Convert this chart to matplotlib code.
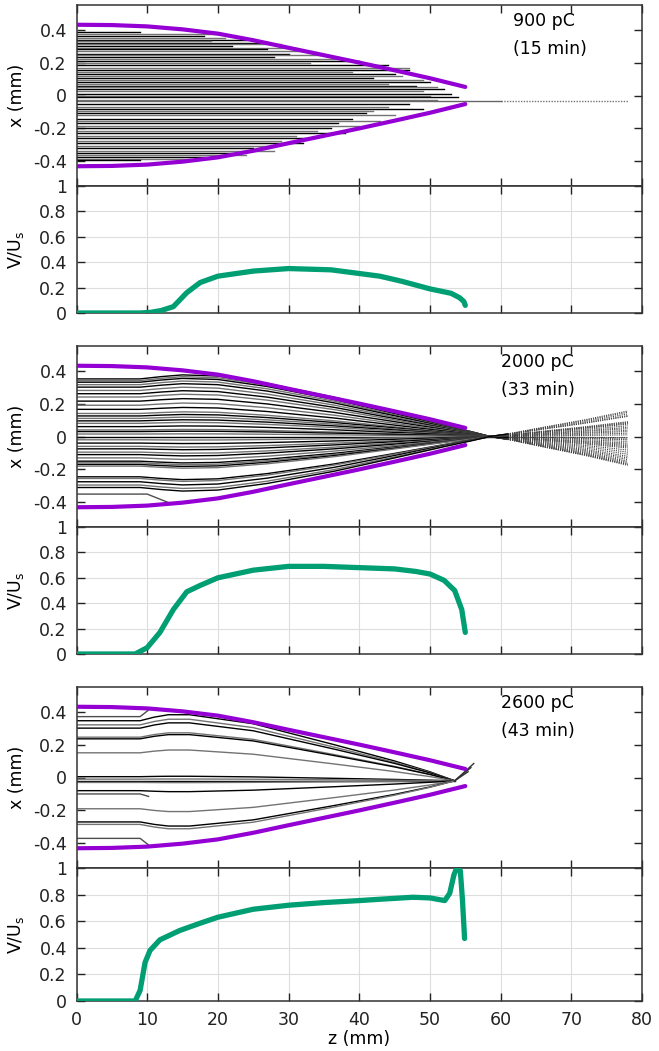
import numpy as np
import matplotlib.pyplot as plt

plt.rcParams['font.family'] = 'DejaVu Sans'
plt.rcParams['axes.unicode_minus'] = False

# beam envelope (upper edge; lower edge is the mirror)
env_z = [0, 5, 10, 15, 20, 25, 30, 35, 40, 45, 50, 55]
env_x = [0.43, 0.428, 0.42, 0.402, 0.376, 0.336, 0.29, 0.245, 0.2, 0.153, 0.105, 0.052]

# 900 pC: start position and end of each track
p1_x0 = [0.385, 0.375, 0.36, 0.35, 0.34, 0.33, 0.32, 0.31, 0.30, 0.29, 0.28, 0.27,
         0.255, 0.245, 0.235, 0.22, 0.21, 0.195, 0.185, 0.17, 0.155, 0.145, 0.13,
         0.12, 0.105, 0.095, 0.083, 0.07, 0.06, 0.05, 0.037, 0.025, 0.012, 0.0,
         -0.012, -0.025, -0.05, -0.067, -0.08, -0.095, -0.105, -0.12, -0.14, -0.155,
         -0.17, -0.185, -0.2, -0.215, -0.23, -0.245, -0.26, -0.275, -0.29, -0.305,
         -0.32, -0.335, -0.35, -0.36, -0.375, -0.385, -0.395]
p1_zend = [9, 20, 18, 21, 24, 19, 26, 29, 22, 31, 27, 33,
           30, 35, 28, 37, 40, 33, 44, 47, 47, 39, 45,
           46, 42, 49, 50, 44, 48, 51, 52, 49, 53, 50,
           54, 51, 47, 44, 49, 42, 41, 45, 39, 43,
           37, 40, 36, 34, 38, 31, 33, 29, 32, 27,
           25, 28, 22, 24, 18, 16, 9]
p1_axis_x = -0.035  # track that survives past the focus

# 2000 pC: start positions and focusing profile
p3_x0 = [0.35, 0.34, 0.33, 0.315, 0.3, 0.28, 0.26, 0.24, 0.215, 0.19, 0.165, 0.14,
         0.125, 0.11, 0.095, 0.08, 0.06, 0.04, 0.03, 0.015, 0.0, -0.02, -0.04,
         -0.06, -0.075, -0.095, -0.11, -0.13, -0.15, -0.16, -0.17, -0.18, -0.245,
         -0.255, -0.275, -0.295, -0.31]
p3_z = [0, 9, 12, 15, 20, 27, 36.5, 45, 52, 56, 58.5, 61]
p3_f = [1, 1, 1.04, 1.07, 1.05, 0.92, 0.68, 0.42, 0.2, 0.08, 0.0, -0.05]
p3_zout = [61, 66, 72, 78]
p3_fout = [-0.05, -0.18, -0.33, -0.5]
p3_lost = ([0, 10, 13.5], [-0.35, -0.35, -0.41])

# 2600 pC
p5_x0 = [0.345, 0.32, 0.30, 0.245, 0.235, 0.15, 0.005, -0.01, -0.02, -0.03,
         -0.08, -0.19, -0.27, -0.285]
p5_z = [0, 9, 11, 13, 16, 25, 36.5, 45, 50, 53.5]
p5_f = [1, 1, 1.06, 1.1, 1.1, 0.95, 0.6, 0.33, 0.15, 0.0]
p5_focus = -0.02
p5_lost_x0 = [0.37, -0.10, -0.37]
p5_lost_x1 = [0.41, -0.115, -0.41]
p5_tail_z = [56.2, 55.8, 55.4]
p5_tail_x = [0.085, 0.06, 0.035]

# V/Us curves
v1_z = [0, 5, 9, 10.5, 12, 13.7, 15.6, 17.5, 20, 25, 30, 36, 42.9, 46, 50, 53, 54.2, 54.8, 55.0]
v1 = [0, 0, 0, 0.005, 0.02, 0.05, 0.16, 0.24, 0.29, 0.33, 0.35, 0.34, 0.29, 0.25, 0.19, 0.155, 0.12, 0.09, 0.06]
v2_z = [0, 5, 8.3, 10, 11.8, 13.7, 15.6, 17.5, 20, 25, 30, 35, 40, 45, 48, 50, 52, 53.5, 54.5, 55]
v2 = [0, 0, 0, 0.05, 0.17, 0.35, 0.49, 0.54, 0.6, 0.66, 0.69, 0.69, 0.68, 0.67, 0.65, 0.63, 0.58, 0.5, 0.35, 0.17]
v3_z = [0, 5, 8.3, 9.0, 9.7, 10.4, 11.8, 14.6, 17.5, 20, 25, 30, 35, 40, 42.9, 47.6, 50,
        52.1, 52.8, 53.4, 53.8, 54.3, 54.6, 54.9]
v3 = [0, 0, 0, 0.08, 0.29, 0.38, 0.46, 0.53, 0.585, 0.63, 0.69, 0.72, 0.74, 0.755, 0.765,
      0.78, 0.775, 0.755, 0.81, 0.95, 1.0, 0.98, 0.76, 0.47]

charges = ["900 pC", "2000 pC", "2600 pC"]
times = ["(15 min)", "(33 min)", "(43 min)"]
text_z = [61.7, 60.1, 60.1]

purple = '#9400d3'
green = '#009e73'
fs = 12.5
W, H = 659, 1051
fig = plt.figure(figsize=(W / 100, H / 100), dpi=100)

left, right = 76.5, 642
x_rows = [(5, 186), (346, 527), (687, 868)]
v_rows = [(186, 313), (527, 654), (868, 1001)]


def make_ax(top, bot):
    return fig.add_axes([left / W, 1 - bot / H, (right - left) / W, (bot - top) / H])


def style(ax):
    ax.set_xlim(0, 80)
    ax.set_xticks(range(0, 81, 10))
    ax.tick_params(direction='in', top=True, right=True, length=6, width=1,
                   labelsize=fs, pad=7, colors='#222222')
    for s in ax.spines.values():
        s.set_color('#333333')
        s.set_linewidth(1.1)


x_axes = [make_ax(*r) for r in x_rows]
v_axes = [make_ax(*r) for r in v_rows]

for i, ax in enumerate(x_axes):
    style(ax)
    ax.set_ylim(-0.55, 0.55)
    ax.set_yticks([-0.4, -0.2, 0, 0.2, 0.4])
    ax.set_yticklabels(['-0.4', '-0.2', '0', '0.2', '0.4'])
    ax.tick_params(labelbottom=False)
    ax.set_ylabel('x (mm)', fontsize=fs)
    ax.yaxis.set_label_coords(-0.09, 0.5)
    ax.plot(env_z, env_x, color=purple, lw=3, solid_capstyle='round', zorder=5)
    ax.plot(env_z, -np.array(env_x), color=purple, lw=3, solid_capstyle='round', zorder=5)
    ax.text(text_z[i], 0.45, charges[i], fontsize=fs, va='center', ha='left')
    ax.text(text_z[i], 0.28, times[i], fontsize=fs, va='center', ha='left')

# 900 pC tracks
ax = x_axes[0]
for k, (x0, ze) in enumerate(zip(p1_x0, p1_zend)):
    c = 'black' if k % 2 == 0 else '0.45'
    ax.plot([0, ze], [x0, x0], color=c, lw=1.0, zorder=2)
ax.plot([0, 60], [p1_axis_x, p1_axis_x], color='0.4', lw=1.0, zorder=2)
ax.plot([60, 78], [p1_axis_x, p1_axis_x], color='0.45', lw=1.0, ls=(0, (1, 1)), zorder=2)

# 2000 pC tracks
ax = x_axes[1]
for k, x0 in enumerate(p3_x0):
    c = 'black' if k % 2 == 0 else '0.45'
    ax.plot(p3_z, x0 * np.array(p3_f), color=c, lw=1.0, zorder=2)
    ax.plot(p3_zout, x0 * np.array(p3_fout), color='0.25', lw=0.8, ls=(0, (1, 1)), zorder=2)
ax.plot(*p3_lost, color='0.3', lw=1.0, zorder=2)

# 2600 pC tracks
ax = x_axes[2]
for k, x0 in enumerate(p5_x0):
    c = 'black' if k % 2 == 0 else '0.45'
    ax.plot(p5_z, p5_focus + (x0 - p5_focus) * np.array(p5_f), color=c, lw=1.0, zorder=2)
for x0, x1 in zip(p5_lost_x0, p5_lost_x1):
    ax.plot([0, 9, 10.2], [x0, x0, x1], color='0.3', lw=1.0, zorder=2)
for zt, xt in zip(p5_tail_z, p5_tail_x):
    ax.plot([53.5, zt], [p5_focus, xt], color='0.2', lw=1.0, zorder=2)

for ax, vz, v in zip(v_axes, [v1_z, v2_z, v3_z], [v1, v2, v3]):
    style(ax)
    ax.set_ylim(0, 1)
    ax.set_yticks([0, 0.2, 0.4, 0.6, 0.8, 1])
    ax.set_yticklabels(['0', '0.2', '0.4', '0.6', '0.8', '1'])
    ax.grid(True, color='#dddddd', lw=0.8)
    ax.set_axisbelow(True)
    ax.set_ylabel('V/U$_\\mathregular{s}$', fontsize=fs)
    ax.yaxis.set_label_coords(-0.09, 0.5)
    ax.plot(vz, v, color=green, lw=3.8, solid_capstyle='round', zorder=5)

for ax in v_axes[:2]:
    ax.tick_params(labelbottom=False)
v_axes[2].set_xlabel('z (mm)', fontsize=fs, labelpad=1)

fig.savefig('out.png', dpi=100)
